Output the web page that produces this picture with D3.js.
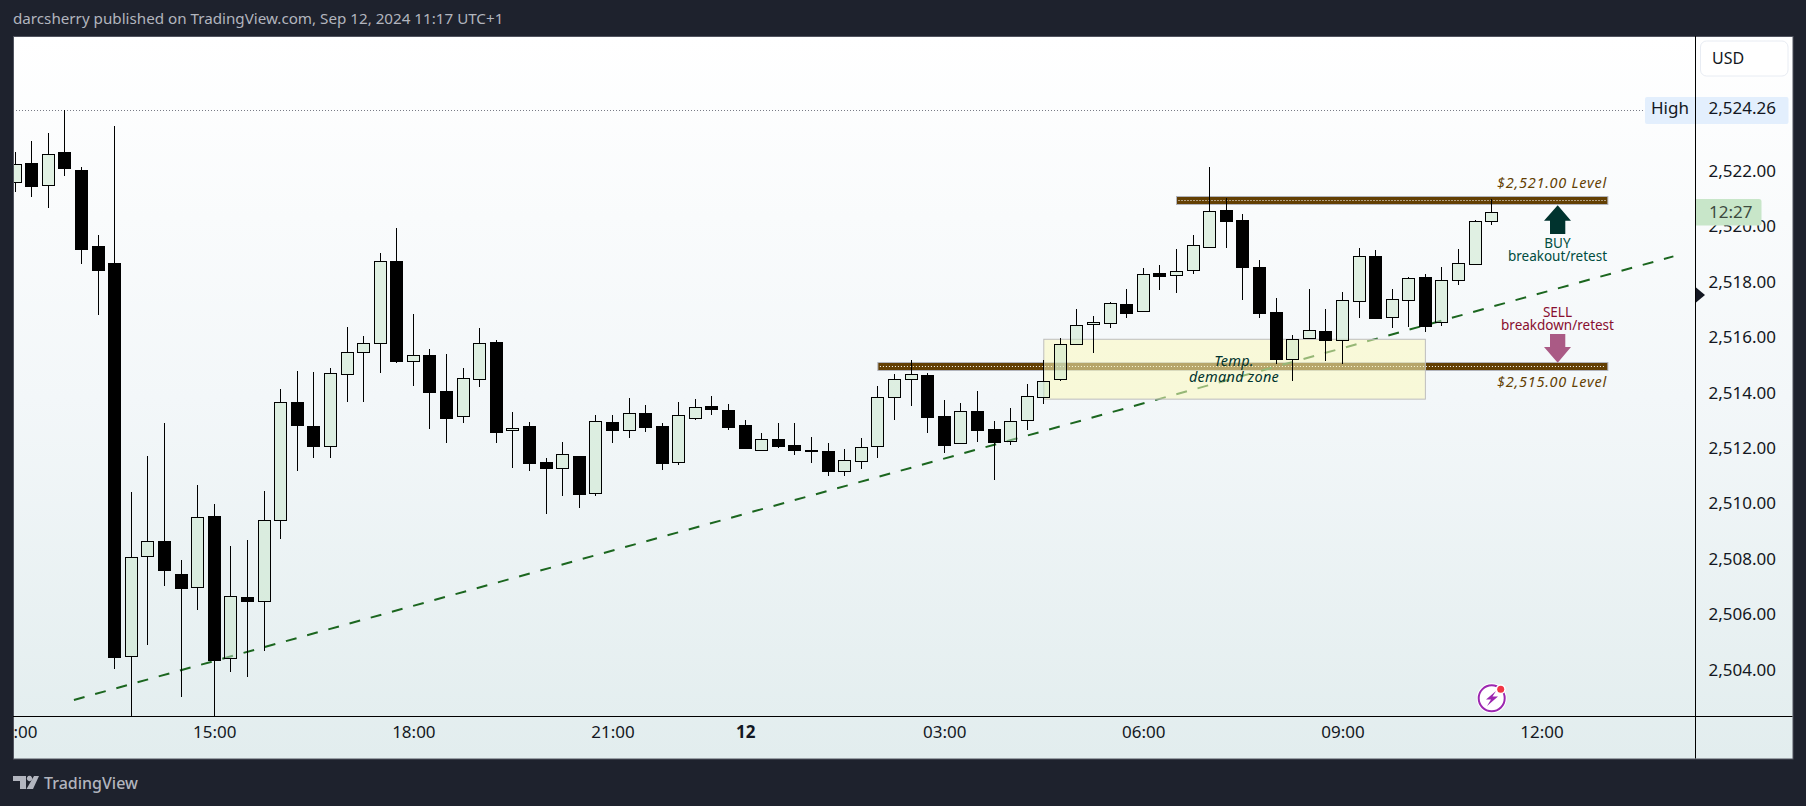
<!DOCTYPE html>
<html><head><meta charset="utf-8">
<script src="https://cdn.jsdelivr.net/npm/d3@7"></script>
<style>html,body{margin:0;padding:0;background:#1e222d;overflow:hidden}svg{display:block}text{font-family:"Noto Sans",sans-serif}</style>
</head><body><svg id="c" width="1806" height="806"></svg>
<script>
const opens=[2521.65,2522.33,2521.54,2522.74,2522.09,2519.35,2518.74,2504.57,2508.15,2508.71,2507.52,2507.04,2509.61,2504.47,2506.69,2506.53,2509.45,2513.72,2512.86,2512.12,2514.72,2515.51,2515.84,2518.80,2515.19,2515.41,2514.12,2513.23,2514.56,2515.89,2512.69,2512.86,2511.56,2511.35,2511.77,2510.43,2513.00,2512.69,2513.32,2512.86,2511.57,2513.15,2513.58,2513.43,2512.89,2512.00,2512.39,2512.17,2511.98,2511.95,2511.24,2511.60,2512.12,2513.89,2514.54,2514.69,2513.22,2512.23,2513.40,2512.75,2512.30,2513.06,2513.88,2514.54,2515.80,2516.52,2516.56,2517.26,2516.99,2518.36,2518.29,2518.47,2519.30,2520.64,2520.29,2518.59,2516.97,2515.26,2516.02,2516.27,2515.95,2517.35,2518.99,2516.78,2517.39,2518.23,2516.60,2518.11,2518.69,2520.24];
const closes=[2522.30,2521.52,2522.66,2522.17,2519.25,2518.49,2504.53,2508.12,2508.70,2507.67,2506.99,2509.56,2504.42,2506.71,2506.55,2509.45,2513.71,2512.87,2512.14,2514.76,2515.51,2515.84,2518.80,2515.21,2515.41,2514.09,2513.15,2514.58,2515.84,2512.65,2512.77,2511.53,2511.35,2511.83,2510.41,2513.02,2512.69,2513.31,2512.83,2511.53,2513.24,2513.53,2513.48,2512.83,2512.07,2512.38,2512.14,2512.00,2511.98,2511.24,2511.62,2512.09,2513.89,2514.54,2514.72,2513.19,2512.18,2513.39,2512.72,2512.29,2513.02,2513.93,2514.47,2515.80,2516.49,2516.60,2517.28,2516.94,2518.33,2518.28,2518.44,2519.37,2520.60,2520.26,2518.57,2516.94,2515.28,2515.98,2516.31,2515.97,2517.39,2518.98,2516.76,2517.43,2518.18,2516.47,2518.11,2518.72,2520.24,2520.56];
const highs=[2522.74,2523.14,2523.43,2524.26,2522.19,2519.75,2523.68,2510.47,2511.77,2512.96,2508.02,2510.73,2510.04,2508.53,2508.74,2510.51,2514.19,2514.84,2514.80,2514.94,2516.43,2516.10,2519.10,2520.00,2516.90,2515.63,2515.45,2514.95,2516.39,2515.96,2513.36,2513.00,2511.70,2512.28,2511.77,2513.24,2513.25,2513.87,2513.61,2512.96,2513.72,2513.83,2513.94,2513.65,2513.07,2512.60,2512.96,2512.96,2512.46,2512.24,2512.03,2512.42,2514.30,2514.73,2515.24,2514.77,2513.79,2513.69,2514.12,2513.04,2513.50,2514.37,2515.24,2516.03,2517.08,2516.82,2517.32,2517.80,2518.56,2518.66,2519.24,2519.75,2522.20,2521.08,2520.50,2518.84,2517.47,2516.14,2517.80,2517.08,2517.69,2519.28,2519.20,2517.80,2518.22,2518.34,2518.59,2519.24,2520.28,2521.04];
const lows=[2521.31,2521.13,2520.73,2521.88,2518.71,2516.87,2504.10,2502.30,2504.96,2507.09,2503.09,2506.23,2502.30,2503.96,2503.78,2504.75,2508.79,2511.21,2511.71,2511.71,2513.70,2513.70,2514.78,2515.14,2514.31,2512.76,2512.25,2512.97,2514.27,2512.25,2511.35,2511.21,2509.66,2510.34,2509.91,2510.34,2512.25,2512.43,2512.65,2511.28,2511.46,2513.05,2513.26,2512.72,2512.03,2512.00,2512.04,2511.82,2511.53,2511.06,2511.06,2511.31,2511.71,2513.08,2513.59,2512.61,2511.89,2512.23,2512.29,2510.92,2512.18,2512.69,2513.66,2514.49,2515.80,2515.50,2516.40,2516.76,2516.99,2517.77,2517.66,2518.35,2519.30,2519.29,2517.41,2516.73,2515.10,2514.49,2516.02,2515.21,2515.07,2516.73,2516.76,2516.37,2516.44,2516.26,2516.47,2517.95,2518.69,2520.12];
const priceTicks=[2522,2520,2518,2516,2514,2512,2510,2508,2506,2504];
const timeBars=[0,12,24,36,44,56,68,80,92];
const timeLabels=["12:00","15:00","18:00","21:00","12","03:00","06:00","09:00","12:00"];
const highPrice=2524.26;
const levelPrices=[2521,2515];
const levelBarsStart=[70,52];
const levelBarEnd=96;
const trendBars=[3.54,99.95];
const trendPrices=[2502.97,2518.97];
const zoneBars=[62,85];
const zonePrices=[2515.98,2513.82];

const svg=d3.select("#c");
const L=13,T=36,R=1792.5,B=758.5,AX=1695.5,AY=716;
const x=d3.scaleLinear().domain([0,92]).range([15.2,1541.5]);
const y=d3.scaleLinear().domain([2502.39,2526.92]).range([716,36]);
const INK="#131722";
const defs=svg.append("defs");
const g=defs.append("linearGradient").attr("id","bg").attr("x1",0).attr("x2",0).attr("y1",0).attr("y2",1);
g.append("stop").attr("offset",0).attr("stop-color","#ffffff");
g.append("stop").attr("offset",0.5).attr("stop-color","#f3f7f9");
g.append("stop").attr("offset",1).attr("stop-color","#e2edee");
defs.append("clipPath").attr("id","plot").append("rect").attr("x",L+1).attr("y",T).attr("width",AX-L-1).attr("height",AY-T);
defs.append("clipPath").attr("id","tb").append("rect").attr("x",L+1).attr("y",AY).attr("width",AX-L-1).attr("height",B-AY);

svg.append("text").attr("x",13).attr("y",24).attr("fill","#b2b5be").attr("font-size",15.2).text("darcsherry published on TradingView.com, Sep 12, 2024 11:17 UTC+1");
svg.append("rect").attr("x",L+.5).attr("y",T+.5).attr("width",R-L).attr("height",B-T).attr("fill","url(#bg)").attr("stroke","#50535e");

const plot=svg.append("g").attr("clip-path","url(#plot)");
// high dotted line
plot.append("line").attr("x1",L).attr("x2",1643).attr("y1",Math.round(y(highPrice))+.5).attr("y2",Math.round(y(highPrice))+.5)
  .attr("stroke","#787b86").attr("stroke-width",1).attr("stroke-dasharray","1 2");
// level bands
function band(i){
  const x0=x(levelBarsStart[i]),x1=x(levelBarEnd),yc=Math.round(y(levelPrices[i]))+.5;
  plot.append("rect").attr("x",x0).attr("width",x1-x0).attr("y",yc-4).attr("height",8).attr("fill","#633f03").attr("stroke","#b2b5be").attr("stroke-width",1);
  plot.append("line").attr("x1",x0+2).attr("x2",x1-2).attr("y1",yc).attr("y2",yc).attr("stroke","#fff").attr("stroke-width",1).attr("stroke-dasharray","1 2");
}
band(0);band(1);
// trend
plot.append("line").attr("x1",x(trendBars[0])).attr("x2",x(trendBars[1])).attr("y1",y(trendPrices[0])).attr("y2",y(trendPrices[1]))
  .attr("stroke","#1b661f").attr("stroke-width",2).attr("stroke-dasharray","11 11");
// zone
plot.append("rect").attr("x",x(zoneBars[0])).attr("width",x(zoneBars[1])-x(zoneBars[0])).attr("y",y(zonePrices[0])).attr("height",y(zonePrices[1])-y(zonePrices[0]))
  .attr("fill","rgba(252,249,190,.55)").attr("stroke","#bdbdbd").attr("stroke-width",1);
// candles
const idx=d3.range(opens.length);
const cs=plot.append("g");
idx.forEach(i=>{
  const up=closes[i]>opens[i],c=Math.floor(x(i));
  const t=Math.round(y(Math.max(opens[i],closes[i]))),b=Math.round(y(Math.min(opens[i],closes[i])));
  const h=Math.round(y(highs[i])),l=Math.round(y(lows[i]));
  if(h<t)cs.append("rect").attr("x",c).attr("width",1).attr("y",h).attr("height",t-h).attr("fill","#000");
  if(l>b)cs.append("rect").attr("x",c).attr("width",1).attr("y",b).attr("height",l-b).attr("fill","#000");
  cs.append("rect").attr("x",c-5.5).attr("width",12).attr("y",t+.5).attr("height",Math.max(b-t,1))
    .attr("fill",up?"rgba(200,230,201,.5)":"#000").attr("stroke","#000").attr("stroke-width",1);
});
// annotations
function note(px,py,txt,fill,anchor,style,size,sp){
  svg.append("text").attr("x",px).attr("y",py).attr("fill",fill).attr("font-size",size||13.5).attr("letter-spacing",sp||0).attr("text-anchor",anchor).attr("font-style",style||"normal").text(txt);
}
note(1607,187.5,"$2,521.00 Level","#633f03","end","italic",14.5,0.75);
note(1607,386.5,"$2,515.00 Level","#633f03","end","italic",14.5,0.75);
note(1234,366,"Temp.","#00332e","middle","italic",14.5,0.25);
note(1234,381.5,"demand zone","#00332e","middle","italic",14.5,0.25);
note(1557.5,248,"BUY","#004d40","middle");
note(1557.5,261,"breakout/retest","#004d40","middle");
note(1557.5,317,"SELL","#880e2f","middle");
note(1557.5,330,"breakdown/retest","#880e2f","middle");
svg.append("path").attr("fill","#00332e").attr("d","M1557.7 205.3L1571 220.7H1565.3V234H1550V220.7H1544Z");
svg.append("path").attr("fill","#aa5a85").attr("d","M1550 334H1565.3V347H1571L1557.7 362.7L1544 347H1550Z");
// icon
const ic=svg.append("g");
ic.append("circle").attr("cx",1491.7).attr("cy",698.3).attr("r",15).attr("fill","#fff");
ic.append("circle").attr("cx",1491.7).attr("cy",698.3).attr("r",13).attr("fill","none").attr("stroke","#9c27b0").attr("stroke-width",2);
ic.append("path").attr("fill","#9c27b0").attr("d","M1496 691L1486 699.5H1491L1487 706L1498 696.5H1492.5Z");
ic.append("circle").attr("cx",1500.7).attr("cy",689.3).attr("r",5).attr("fill","#fff");
ic.append("circle").attr("cx",1500.7).attr("cy",689.3).attr("r",3.5).attr("fill","#f23645");
// axes lines
svg.append("line").attr("x1",L).attr("x2",R).attr("y1",AY+.5).attr("y2",AY+.5).attr("stroke","#000");
// High label
svg.append("rect").attr("x",1645).attr("y",97).attr("width",143.5).attr("height",27).attr("rx",2).attr("fill","#e3effd");
svg.append("line").attr("x1",AX).attr("x2",AX).attr("y1",T).attr("y2",B).attr("stroke","#000");
svg.append("text").attr("x",1651).attr("y",114).attr("font-size",17).attr("fill",INK).text("High");
// price axis
const ya=d3.axisRight(y).tickValues(priceTicks.concat([highPrice])).tickSize(0).tickPadding(13).tickFormat(d3.format(",.2f"));
const yg=svg.append("g").attr("transform",`translate(${AX},-1.5)`).call(ya);
yg.select(".domain").remove();
yg.selectAll("text").attr("font-size",17).attr("fill",INK).style("font-family",'"Noto Sans",sans-serif');
// time axis
const xa=d3.axisBottom(x).tickValues(timeBars).tickSize(0).tickPadding(0).tickFormat((d,i)=>timeLabels[i]);
const xg=svg.append("g").attr("clip-path","url(#tb)").append("g").attr("transform",`translate(0,${AY+10})`).call(xa);
xg.select(".domain").remove();
xg.selectAll("text").attr("font-size",17).attr("fill",INK).attr("font-weight",(d,i)=>timeLabels[i]==="12"?"bold":"normal").style("font-family",'"Noto Sans",sans-serif');
// USD
svg.append("rect").attr("x",1700.5).attr("y",41).attr("width",87.5).attr("height",35).attr("rx",6).attr("fill","#fff").attr("stroke","#e8ecf3").attr("stroke-width",1);
svg.append("text").attr("x",1712).attr("y",64).attr("font-size",16).attr("fill",INK).text("USD");
// countdown
svg.append("path").attr("fill","#c8e6c9").attr("d","M1696 199H1759a2.5 2.5 0 0 1 2.5 2.5V223a2.5 2.5 0 0 1 -2.5 2.5H1696Z");
svg.append("text").attr("x",1709).attr("y",218).attr("font-size",17).attr("fill","#3d4a3f").text("12:27");
// marker
svg.append("path").attr("fill","#131722").attr("d","M1696 287.5L1705 295L1696 302.5Z");
// brand
svg.append("path").attr("fill","#b2b5be").attr("d","M13 776H26V789H20V781H13ZM29.5 775.8a2.7 2.7 0 1 1 -0.01 0ZM34 776H39L33 789H26.5Z");
svg.append("text").attr("x",44).attr("y",788.5).attr("font-size",16).attr("font-weight",500).attr("fill","#b2b5be").text("TradingView");
</script></body></html>
